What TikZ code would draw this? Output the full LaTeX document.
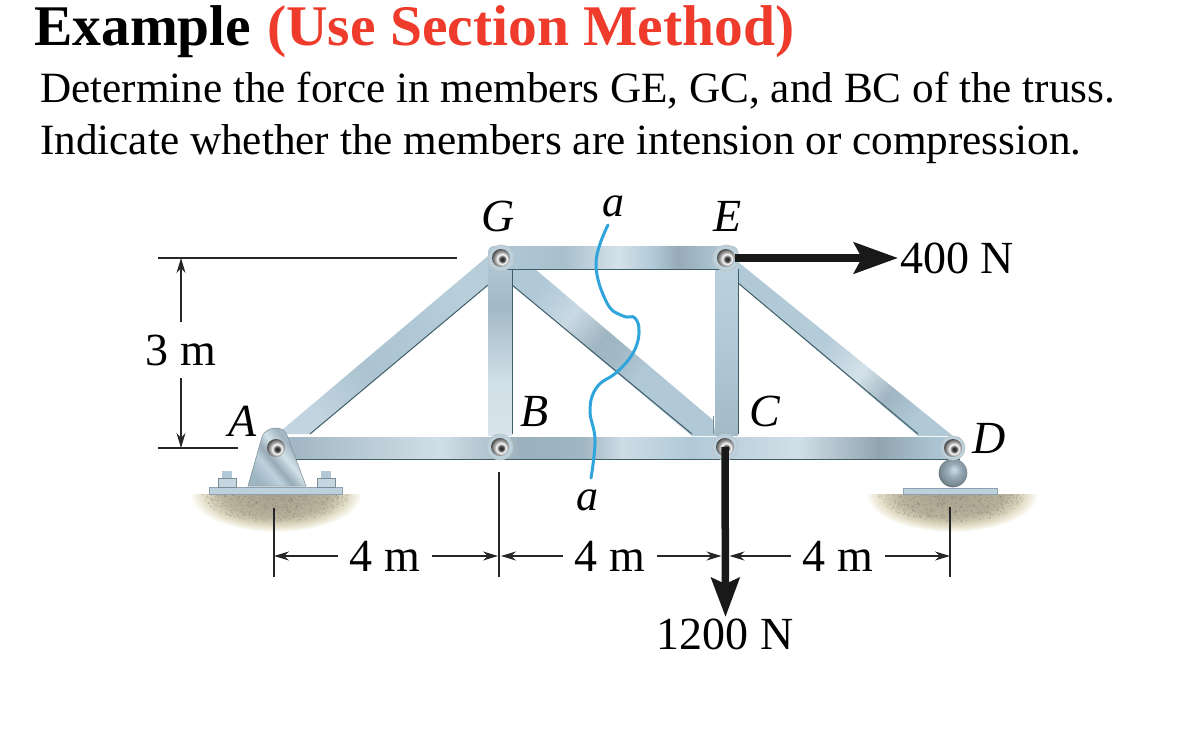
\documentclass[tikz,border=0pt]{standalone}
\usepackage{fontspec}
\setmainfont{Liberation Serif}
\usetikzlibrary{arrows.meta}
\definecolor{titlered}{HTML}{EE3B2B}
\definecolor{cutblue}{HTML}{30A5DC}
\definecolor{edgedark}{HTML}{3F5F68}
\definecolor{steel}{HTML}{B1C9D7}
\definecolor{soilA}{HTML}{A8A08C}
\definecolor{soilB}{HTML}{B8B19B}
\definecolor{soilC}{HTML}{DAD5BC}
\definecolor{soilD}{HTML}{F4F2E6}
\pgfdeclarehorizontalshading{chordbottom}{100bp}{color(0bp)=(steel); color(25bp)=(steel!90!black); color(36.5bp)=(steel!60!white); color(42.5bp)=(steel!88!black); color(47bp)=(steel!90!black); color(50bp)=(steel!65!white); color(55bp)=(steel); color(63bp)=(steel!60!white); color(69bp)=(steel!82!black); color(74bp)=(steel); color(100bp)=(steel)}
\pgfdeclarehorizontalshading{chordtop}{100bp}{color(0bp)=(steel); color(25bp)=(steel); color(40bp)=(steel!95!black); color(51bp)=(steel!55!white); color(58bp)=(steel); color(63bp)=(steel!85!black); color(72bp)=(steel); color(100bp)=(steel)}
\pgfdeclarehorizontalshading{diagleft}{100bp}{color(0bp)=(steel!80!white); color(25bp)=(steel!80!white); color(42bp)=(steel!97!black); color(60bp)=(steel); color(75bp)=(steel!90!white); color(100bp)=(steel)}
\pgfdeclarehorizontalshading{diagmid}{100bp}{color(0bp)=(steel); color(25bp)=(steel); color(36bp)=(steel!70!white); color(46bp)=(steel!90!black); color(52bp)=(steel!92!black); color(60bp)=(steel); color(100bp)=(steel)}
\pgfdeclarehorizontalshading{diagright}{100bp}{color(0bp)=(steel); color(25bp)=(steel); color(45bp)=(steel!95!white); color(57bp)=(steel!55!white); color(66bp)=(steel!90!black); color(75bp)=(steel); color(100bp)=(steel)}
\pgfdeclareverticalshading{postleft}{100bp}{color(0bp)=(steel!50!white); color(25bp)=(steel!50!white); color(40bp)=(steel!60!white); color(60bp)=(steel!92!black); color(75bp)=(steel); color(100bp)=(steel)}
\pgfdeclareverticalshading{postright}{100bp}{color(0bp)=(steel); color(25bp)=(steel!92!black); color(50bp)=(steel); color(75bp)=(steel!85!white); color(100bp)=(steel)}
\pgfdeclarehorizontalshading{bracketshade}{100bp}{color(0bp)=(steel!90!black); color(25bp)=(steel!90!black); color(38bp)=(steel!85!white); color(45bp)=(steel!85!black); color(55bp)=(steel!55!white); color(65bp)=(steel!90!black); color(75bp)=(steel); color(100bp)=(steel)}
\pgfdeclareradialshading{pinball}{\pgfpoint{4bp}{-4bp}}{color(0bp)=(black!85); color(6bp)=(black!75); color(10bp)=(black!35); color(13bp)=(white); color(17bp)=(black!25); color(24bp)=(black!55); color(30bp)=(black!80); color(50bp)=(black!80)}
\pgfdeclareradialshading{rollerball}{\pgfpoint{2bp}{6bp}}{color(0bp)=(steel!60!white); color(12bp)=(steel!85!black); color(23bp)=(steel!70!black); color(31bp)=(steel!45!black); color(50bp)=(steel!45!black)}
\pgfdeclareradialshading{soil}{\pgfpoint{0bp}{0bp}}{color(0bp)=(soilA); color(15bp)=(soilB); color(20bp)=(soilC); color(23.5bp)=(soilD); color(25bp)=(white); color(50bp)=(white)}
\tikzset{
  memberbar/.style 2 args={shading=#1,shading angle=#2},
  memberedge/.style={draw=edgedark,line width=1pt},
  pinnode/.style={circle,minimum size=18pt,inner sep=0pt,shading=pinball},
  gusset/.style={draw=edgedark!35,fill=steel!85!white,line width=.8pt},
  lbl/.style={font=\fontsize{46}{50}\selectfont,inner sep=0pt},
  ital/.style={font=\fontsize{46}{50}\selectfont\itshape,inner sep=0pt},
  dim/.style={draw=black!85,line width=1.1pt},
  dimarrow/.style={dim,-{Stealth[length=15pt,width=9pt]}},
  force/.style={draw=black!90,line width=7.5pt},
  cutline/.style={draw=cutblue,line width=3pt,line cap=round},
}
\newcommand{\soilpatch}[1]{%
  \begin{scope}
    \clip (#1-95,494) rectangle (#1+95,540);
    \shade[shading=soil] (#1,494) ellipse [x radius=86,y radius=38];
    \pgfmathsetseed{#1}
    \foreach \k in {1,...,500}{
      \pgfmathsetmacro{\ang}{rnd*180}
      \pgfmathsetmacro{\rad}{sqrt(rnd)*0.88}
      \fill[black!60,opacity=.25] ({#1+\rad*84*cos(\ang)},{494+\rad*32*sin(\ang)}) circle (.7);
    }
  \end{scope}}
\begin{document}
\begin{tikzpicture}[x=1pt,y=-1pt]
\useasboundingbox (0,0) rectangle (1191,729);
\fill[white] (0,0) rectangle (1191,729);
% text
\node[anchor=base west,inner sep=0pt,font=\fontsize{57.5}{60}\selectfont\bfseries] (title) at (34,45) {Example};
\node[anchor=base west,inner sep=0pt,font=\fontsize{57.5}{60}\selectfont\bfseries,text=titlered] (method) at (267,45) {(Use Section Method)};
\node[anchor=base west,inner sep=0pt,font=\fontsize{43.2}{46}\selectfont] (line1) at (40,102) {Determine the force in members GE, GC, and BC of the truss.};
\node[anchor=base west,inner sep=0pt,font=\fontsize{43.2}{46}\selectfont] (line2) at (40,154) {Indicate whether the members are intension or compression.};
% ground
\soilpatch{276}
\soilpatch{952}
% supports
\fill[steel!85!white,draw=steel!80!black,line width=.5pt] (209,487) rectangle (342,494);
\fill[steel!85!white,draw=steel!80!black,line width=.5pt] (903,488) rectangle (997,494);
\foreach \bx in {227,326}{
  \fill[steel] (\bx-5,471) rectangle (\bx+5,478);
  \fill[steel!75!white,draw=steel!70!black,line width=.4pt] (\bx-9,478) rectangle (\bx+9,487);
}
% members
\shade[memberbar={diagleft}{40}] (488,285) -- (310,434) -- (282,434) -- (282,430) -- (488,256) -- cycle;
\draw[memberedge] (488,285) -- (310,434);
\shade[memberbar={diagright}{-40}] (738,262) -- (953,436) -- (918,436) -- (738,283) -- cycle;
\draw[memberedge] (738,283) -- (918,434);
\shade[memberbar={diagmid}{-40}] (512,285) -- (512,262) -- (535,269) -- (713,420) -- (716,436) -- (692,436) -- cycle;
\draw[memberedge] (512,285) -- (692,434);
\draw[edgedark!70,line width=.6pt] (713,416) -- (713,434);
\shade[shading=postleft] (488,252) rectangle (512,435);
\draw[memberedge] (512,269) -- (512,434);
\shade[shading=postright] (715,252) rectangle (738,435);
\draw[memberedge] (738,269) -- (738,434);
\shade[shading=chordtop,rounded corners=6pt] (488,246) rectangle (738,269);
\draw[memberedge] (495,269) -- (731,269);
\shade[shading=chordbottom] (284,437) -- (960,437) -- (960,459) -- (284,459) -- cycle;
\draw[memberedge] (284,459) -- (960,459);
% bracket
\shade[shading=bracketshade,shading angle=40,draw=steel!70!black,line width=.5pt] (248,486) -- (262,437) .. controls (264,431) and (270,428) .. (276,428) .. controls (282,428) and (286,431) .. (288,438) -- (306,486) -- cycle;
% roller
\shade[shading=rollerball] (953,473) circle (14.3);
% gussets
\fill[gusset] (500,447) circle (13);
\fill[gusset] (725,447) circle (13);
\fill[gusset] (953,448) circle (12);
\fill[gusset] (501,258) circle (13);
\fill[gusset] (726,258) circle (13);
% pins
\node[pinnode] (pinA) at (276,448) {};
\node[pinnode] (pinB) at (500,447) {};
\node[pinnode] (pinC) at (725,447) {};
\node[pinnode] (pinD) at (953,448) {};
\node[pinnode] (pinG) at (501,258) {};
\node[pinnode] (pinE) at (726,258) {};
% section line
\draw[cutline] plot[smooth,tension=.7] coordinates {(608,225) (596,263) (607,303) (623,316) (635,318) (639,333) (633,353) (617,372) (597,387) (590,410) (595,440) (591,478)};
% labels
\node[ital] (lG) at (498,216) {G};
\node[ital,font=\fontsize{44}{48}\selectfont\itshape] (la) at (613,206) {a};
\node[ital] (lE) at (728,216) {E};
\node[ital] (lA) at (243,421) {A};
\node[ital] (lB) at (535,411) {B};
\node[ital] (lC) at (765,411) {C};
\node[ital] (lD) at (989,438) {D};
\node[ital,font=\fontsize{44}{48}\selectfont\itshape] (lb) at (587,500) {a};
\node[lbl] (f400) at (957,258) {400 N};
\node[lbl] (f1200) at (725,634) {1200 N};
\node[lbl] (h3) at (181,350) {3 m};
\node[lbl] (d1) at (385,556) {4 m};
\node[lbl] (d2) at (610,556) {4 m};
\node[lbl] (d3) at (838,556) {4 m};
% forces
\draw[force,-{Stealth[length=44pt,width=31pt,inset=8pt]}] (pinE) -- ([xshift=-2pt]f400.west);
\draw[force,-{Stealth[length=39pt,width=28pt,inset=6pt]}] (pinC.center) -- (725.5,617);
% dimension lines
\coordinate (t1a) at (274,508); \coordinate (t1b) at (274,577);
\coordinate (t2a) at (499,472); \coordinate (t2b) at (499,577);
\coordinate (t3a) at (950,507); \coordinate (t3b) at (950,577);
\coordinate (m1) at (274,556); \coordinate (m2) at (499,556); \coordinate (m3) at (725.5,556); \coordinate (m4) at (950,556);
\coordinate (hA) at (158,258); \coordinate (hB) at (457,258);
\coordinate (hC) at (158,448); \coordinate (hD) at (238,448);
\coordinate (v1) at (181,258); \coordinate (v2) at (181,448);
\draw[dim] (t1a) -- (t1b);
\draw[dim] (t2a) -- (t2b);
\draw[dim] (t3a) -- (t3b);
\draw[dim] (hA) -- (hB);
\draw[dim] (hC) -- (hD);
\draw[dimarrow] (d1.west) ++(-12,0) -- (m1);
\draw[dimarrow] (d1.east) ++(12,0) -- ([xshift=-1pt]m2);
\draw[dimarrow] (d2.west) ++(-12,0) -- ([xshift=2pt]m2);
\draw[dimarrow] (d2.east) ++(12,0) -- ([xshift=-4pt]m3);
\draw[dimarrow] (d3.west) ++(-12,0) -- ([xshift=4pt]m3);
\draw[dimarrow] (d3.east) ++(12,0) -- (m4);
\draw[dimarrow] (h3.north) ++(0,-12) -- (v1);
\draw[dimarrow] (h3.south) ++(0,12) -- (v2);
\end{tikzpicture}
\end{document}
